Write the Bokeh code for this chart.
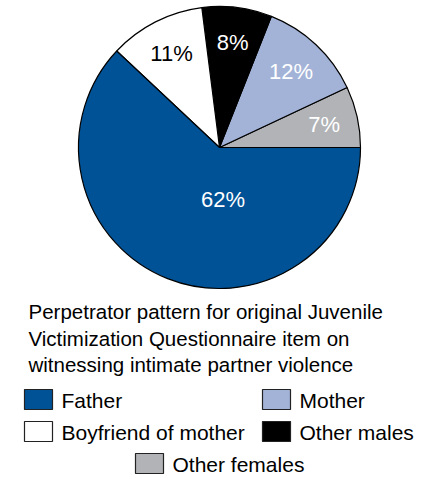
import numpy as np
from bokeh.plotting import figure
from bokeh.models import Range1d, ColumnDataSource
from bokeh.core.properties import value
from bokeh.embed import file_html
from bokeh.resources import INLINE

# ---- data ----
categories = ["Other females", "Mother", "Other males", "Boyfriend of mother", "Father"]
percents = [7, 12, 8, 11, 62]
colors = ["#B1B3B6", "#A3B3D7", "#000000", "#FFFFFF", "#005296"]
label_colors = ["white", "white", "white", "black", "white"]
title_lines = ["Perpetrator pattern for original Juvenile",
               "Victimization Questionnaire item on",
               "witnessing intimate partner violence"]
legend_order = ["Father", "Mother", "Boyfriend of mother", "Other males", "Other females"]

# ---- layout (page pixels -> data coordinates) ----
W, H = 427, 479
def px(x): return x
def py(y): return H - y

FONT = "Liberation Sans"
cx, cy, R = px(219), py(147), 141

vals = np.array(percents, dtype=float)
ends = np.cumsum(vals) / vals.sum() * 2 * np.pi
starts = np.concatenate([[0.0], ends[:-1]])
mids = (starts + ends) / 2

# label placement style: radius factor and angle override for the big slice
label_r = [0.76, 0.74, 0.75, 0.75, 0.37]
label_ang = list(mids)
label_ang[4] = np.deg2rad(274)
lx = [cx + r * R * np.cos(a) for r, a in zip(label_r, label_ang)]
ly = [cy + r * R * np.sin(a) for r, a in zip(label_r, label_ang)]

p = figure(width=W, height=H, output_backend="svg", toolbar_location=None,
           x_range=Range1d(0, W), y_range=Range1d(0, H), min_border=0)
p.axis.visible = False
p.grid.visible = False
p.outline_line_color = None
p.background_fill_color = "white"

src = ColumnDataSource(dict(start=starts, end=ends, color=colors))
p.wedge(x=cx, y=cy, radius=R, radius_units="screen", start_angle="start", end_angle="end",
        fill_color="color", line_color="black", line_width=1.2, source=src)

p.text(x=lx, y=ly, text=[f"{v}%" for v in percents], text_color=label_colors,
       text_font=value(FONT), text_font_size="22px", text_align="center",
       text_baseline="middle")

# title (y = middle of capitals)
title_mid = [311, 337.5, 364]
p.text(x=[px(28)] * 3, y=[py(b) for b in title_mid], text=title_lines,
       text_font=value(FONT), text_font_size="20.5px", text_color="black",
       text_align="left", text_baseline="middle")

# legend
leg_box = {"Father": (24, 389), "Mother": (262, 389),
           "Boyfriend of mother": (24, 421), "Other males": (262, 421),
           "Other females": (135, 453)}
bw, bh = 28, 20
cmap = dict(zip(categories, colors))
bx = [px(leg_box[c][0] + bw / 2) for c in legend_order]
by = [py(leg_box[c][1] + bh / 2) for c in legend_order]
p.rect(x=bx, y=by, width=bw, height=bh, width_units="screen", height_units="screen",
       fill_color=[cmap[c] for c in legend_order], line_color="#222222", line_width=1.2)
p.text(x=[px(leg_box[c][0] + 37) for c in legend_order],
       y=[py(leg_box[c][1] + 10.5) for c in legend_order], text=legend_order,
       text_font=value(FONT), text_font_size="21px", text_color="black",
       text_align="left", text_baseline="middle")

open("out.html", "w").write(file_html(p, INLINE))
